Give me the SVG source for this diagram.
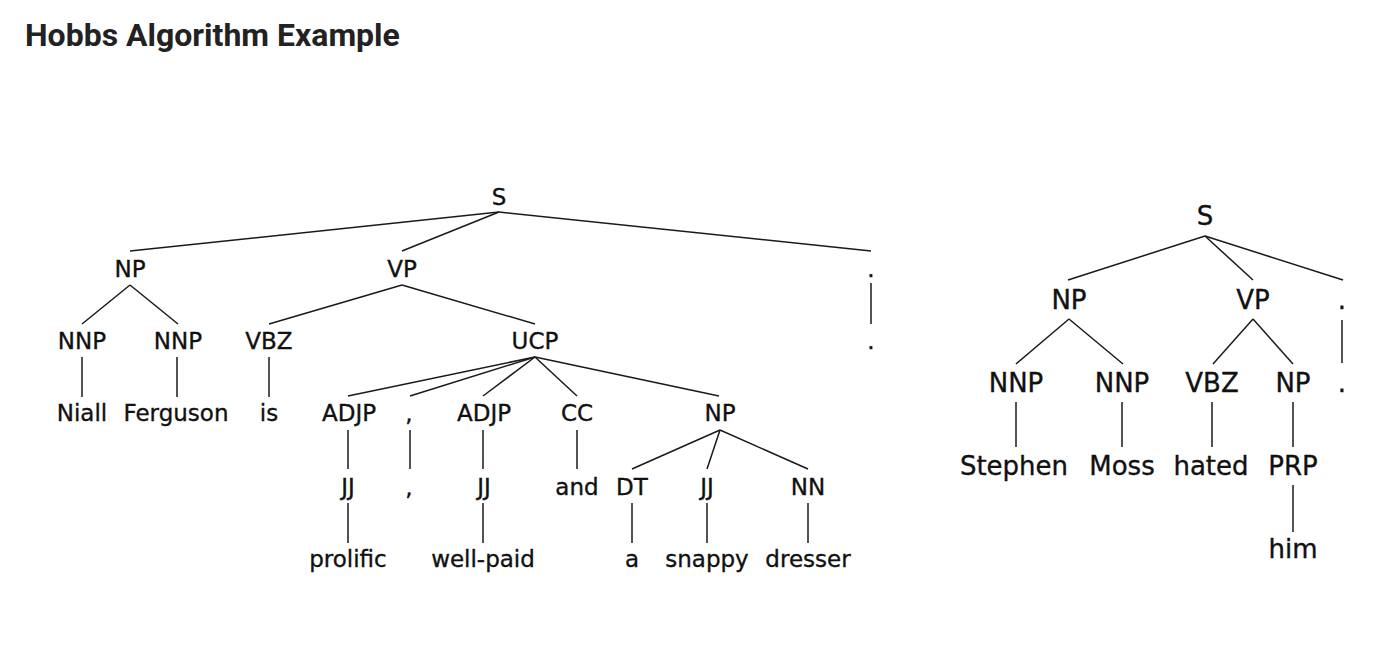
<svg xmlns="http://www.w3.org/2000/svg" width="1396" height="646" viewBox="0 0 1396 646">
<style>
.t{font-family:"DejaVu Sans","Noto Sans",sans-serif;fill:#111;stroke:#111;stroke-width:0.35;text-anchor:middle}
.l{font-size:23px}
.r{font-size:26px}
.title{font-family:Roboto,"Liberation Sans",sans-serif;font-weight:700;font-size:32px;fill:#222}
.e line{stroke:#1a1a1a;stroke-width:1.5;fill:none}
</style>
<rect width="1396" height="646" fill="#fff"/>
<text class="title" x="25" y="46">Hobbs Algorithm Example</text>
<g class="e" id="connectors">
<line x1="499" y1="212" x2="130" y2="251"/>
<line x1="499" y1="212" x2="402" y2="251"/>
<line x1="499" y1="212" x2="871" y2="251"/>
<line x1="130" y1="285" x2="82" y2="324"/>
<line x1="130" y1="285" x2="178" y2="324"/>
<line x1="402" y1="285" x2="269" y2="324"/>
<line x1="402" y1="285" x2="535" y2="324"/>
<line x1="871" y1="283" x2="871" y2="324"/>
<line x1="82" y1="357" x2="82" y2="397"/>
<line x1="177" y1="357" x2="177" y2="397"/>
<line x1="269" y1="357" x2="269" y2="397"/>
<line x1="535" y1="357" x2="348" y2="396"/>
<line x1="535" y1="357" x2="410" y2="396"/>
<line x1="535" y1="357" x2="483" y2="396"/>
<line x1="535" y1="357" x2="577" y2="396"/>
<line x1="535" y1="357" x2="719" y2="396"/>
<line x1="348" y1="430" x2="348" y2="469"/>
<line x1="410" y1="430" x2="410" y2="469"/>
<line x1="483" y1="430" x2="483" y2="469"/>
<line x1="577" y1="430" x2="577" y2="469"/>
<line x1="720" y1="430" x2="632" y2="469"/>
<line x1="720" y1="430" x2="707" y2="469"/>
<line x1="720" y1="430" x2="808" y2="469"/>
<line x1="348" y1="503" x2="348" y2="543"/>
<line x1="483" y1="503" x2="483" y2="543"/>
<line x1="632" y1="503" x2="632" y2="543"/>
<line x1="707" y1="503" x2="707" y2="543"/>
<line x1="808" y1="503" x2="808" y2="543"/>
<line x1="1205" y1="236" x2="1068" y2="280"/>
<line x1="1205" y1="236" x2="1253" y2="280"/>
<line x1="1205" y1="236" x2="1343" y2="280"/>
<line x1="1069" y1="319" x2="1016" y2="364"/>
<line x1="1069" y1="319" x2="1123" y2="364"/>
<line x1="1253" y1="319" x2="1213" y2="364"/>
<line x1="1253" y1="319" x2="1293" y2="364"/>
<line x1="1342" y1="320" x2="1342" y2="363"/>
<line x1="1016" y1="402" x2="1016" y2="447"/>
<line x1="1122" y1="402" x2="1122" y2="447"/>
<line x1="1212" y1="402" x2="1212" y2="447"/>
<line x1="1293" y1="402" x2="1293" y2="447"/>
<line x1="1293" y1="485" x2="1293" y2="532"/>
</g>
<g id="tree1" class="t l">
<g id="t1-S"><text x="499" y="205">S</text></g>
<g id="t1-NP"><text x="130" y="277">NP</text></g>
<g id="t1-VP"><text x="402" y="277">VP</text></g>
<g id="t1-punct"><text x="871" y="277">.</text></g>
<g id="t1-NNP1"><text x="82" y="349">NNP</text></g>
<g id="t1-NNP2"><text x="178" y="349">NNP</text></g>
<g id="t1-VBZ"><text x="269" y="349">VBZ</text></g>
<g id="t1-UCP"><text x="535" y="349">UCP</text></g>
<g id="t1-period"><text x="871" y="349">.</text></g>
<g id="t1-Niall"><text x="82" y="421">Niall</text></g>
<g id="t1-Ferguson"><text x="176" y="421">Ferguson</text></g>
<g id="t1-is"><text x="269" y="421">is</text></g>
<g id="t1-ADJP1"><text x="349" y="421">ADJP</text></g>
<g id="t1-commaTag"><text x="409" y="421">,</text></g>
<g id="t1-ADJP2"><text x="484" y="421">ADJP</text></g>
<g id="t1-CC"><text x="577" y="421">CC</text></g>
<g id="t1-NP2"><text x="720" y="421">NP</text></g>
<g id="t1-JJ1"><text x="348" y="495">JJ</text></g>
<g id="t1-comma"><text x="409" y="495">,</text></g>
<g id="t1-JJ2"><text x="484" y="495">JJ</text></g>
<g id="t1-and"><text x="577" y="495">and</text></g>
<g id="t1-DT"><text x="632" y="495">DT</text></g>
<g id="t1-JJ3"><text x="707" y="495">JJ</text></g>
<g id="t1-NN"><text x="808" y="495">NN</text></g>
<g id="t1-prolific"><text x="348" y="567">prolific</text></g>
<g id="t1-wellpaid"><text x="483" y="567">well-paid</text></g>
<g id="t1-a"><text x="632" y="567">a</text></g>
<g id="t1-snappy"><text x="707" y="567">snappy</text></g>
<g id="t1-dresser"><text x="808" y="567">dresser</text></g>
</g>
<g id="tree2" class="t r">
<g id="t2-S"><text x="1205" y="225">S</text></g>
<g id="t2-NP"><text x="1069" y="309">NP</text></g>
<g id="t2-VP"><text x="1253" y="309">VP</text></g>
<g id="t2-punct"><text x="1342" y="309">.</text></g>
<g id="t2-NNP1"><text x="1016" y="392">NNP</text></g>
<g id="t2-NNP2"><text x="1122" y="392">NNP</text></g>
<g id="t2-VBZ"><text x="1212" y="392">VBZ</text></g>
<g id="t2-NP2"><text x="1293" y="392">NP</text></g>
<g id="t2-period"><text x="1342" y="392">.</text></g>
<g id="t2-Stephen"><text x="1014" y="475">Stephen</text></g>
<g id="t2-Moss"><text x="1122" y="475">Moss</text></g>
<g id="t2-hated"><text x="1211" y="475">hated</text></g>
<g id="t2-PRP"><text x="1293" y="475">PRP</text></g>
<g id="t2-him"><text x="1293" y="558">him</text></g>
</g>
</svg>
